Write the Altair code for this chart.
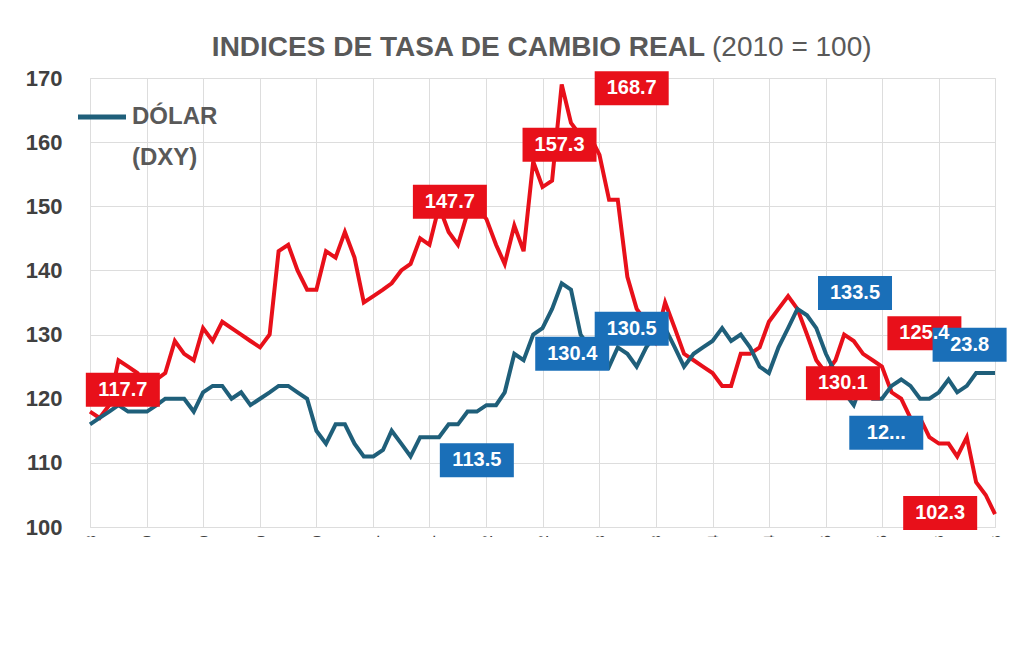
import altair as alt
import pandas as pd

dates = pd.date_range("2018-07-01", "2026-07-01", freq="MS")
peso = [118,117,119,126,125,124, 122,123,124,129,127,126,
        131,129,132,131,130,129, 128,130,143,144,140,137,
        137,143,142,146,142,135, 136,137,138,140,141,145,
        144,150,146,144,149,150, 148,144,141,147,143,157,
        153,154,169,163,161,161, 158,151,151,139,134,132,
        129,135,131,127,126,125, 124,122,122,127,127,128,
        132,134,136,134,130,126, 124,126,130,129,127,126,
        125,121,120,117,117,114, 113,113,111,114,107,105, 102]
dolar = [116,117,118,119,118,118, 118,119,120,120,120,118,
         121,122,122,120,121,119, 120,121,122,122,121,120,
         115,113,116,116,113,111, 111,112,115,113,111,114,
         114,114,116,116,118,118, 119,119,121,127,126,130,
         131,134,138,137,130,128, 127,125,128,127,125,128,
         130,131,128,125,127,128, 129,131,129,130,128,125,
         124,128,131,134,133,131, 127,124,121,119,123,120,
         120,122,123,122,120,120, 121,123,121,122,124,124, 124]

df = pd.concat([
    pd.DataFrame({"fecha": dates, "valor": peso, "serie": "PESO"}),
    pd.DataFrame({"fecha": dates, "valor": dolar, "serie": "DÓLAR (DXY)"}),
])

lab_text = ["117.7", "147.7", "157.3", "168.7", "130.1", "125.4", "102.3",
            "113.5", "130.4", "130.5", "133.5", "12...", "23.8"]
lab_date = ["2018-10-15", "2021-09-05", "2022-08-25", "2023-04-15", "2025-02-25", "2025-11-15", "2026-01-05",
            "2021-12-01", "2022-10-05", "2023-04-15", "2025-04-05", "2025-07-15", "2026-04-10"]
lab_val = [121.4, 150.7, 159.6, 168.4, 122.4, 130.2, 102.2,
           110.4, 127.0, 130.9, 136.5, 114.7, 128.4]
lab_color = ["#e8101a"] * 7 + ["#1a6fb8"] * 6
labels = pd.DataFrame({"t": lab_text, "fecha": pd.to_datetime(lab_date), "valor": lab_val, "c": lab_color})

xenc = alt.X("fecha:T", scale=alt.Scale(domain=["2018-07-01", "2026-07-01"]),
             axis=alt.Axis(format="%b-%y", values=[f"{y}-{m:02d}-01" for y in range(2018, 2027) for m in (1, 7)
                                                   if not (y == 2018 and m == 1)],
                           labelAngle=270, labelFontSize=15, labelFontWeight="bold", labelColor="#404040",
                           title=None, grid=True, gridColor="#dddddd", domain=False, ticks=False,
                           labelPadding=8))
yenc = alt.Y("valor:Q", scale=alt.Scale(domain=[100, 170], nice=False),
             axis=alt.Axis(values=list(range(100, 171, 10)), labelFontSize=22, labelFontWeight="bold",
                           labelColor="#404040", title=None, gridColor="#dddddd", domain=False, ticks=False,
                           labelPadding=28))

lines = alt.Chart(df).mark_line(strokeWidth=4).encode(
    x=xenc, y=yenc,
    color=alt.Color("serie:N", scale=alt.Scale(domain=["PESO", "DÓLAR (DXY)"], range=["#e8101a", "#1f5f7a"]),
                    legend=None),
    order=alt.Order("serie:N", sort="ascending"),
)

boxes = alt.Chart(labels).mark_rect(height=34, width=74).encode(
    x="fecha:T", y="valor:Q", color=alt.Color("c:N", scale=None))
texts = alt.Chart(labels).mark_text(font="Liberation Sans", fontSize=20, fontWeight="bold", color="white").encode(
    x="fecha:T", y="valor:Q", text="t:N")

title1 = alt.Chart(pd.DataFrame({"t": ["INDICES DE TASA DE CAMBIO REAL"]})).mark_text(
    fontSize=28, fontWeight="bold", color="#595959", align="right", font="Liberation Sans").encode(
    x=alt.value(615), y=alt.value(-30), text="t:N")
title2 = alt.Chart(pd.DataFrame({"t": ["(2010 = 100)"]})).mark_text(
    fontSize=28, color="#595959", align="left", font="Liberation Sans").encode(
    x=alt.value(622), y=alt.value(-30), text="t:N")
leg_line = alt.Chart(pd.DataFrame({"a": [0]})).mark_rule(strokeWidth=5, color="#1f5f7a").encode(
    x=alt.value(-12), x2=alt.value(36), y=alt.value(39))
leg_text = alt.Chart(pd.DataFrame({"t": ["DÓLAR", "(DXY)"], "yy": [39, 80]})).mark_text(
    fontSize=24, fontWeight="bold", color="#595959", align="left", font="Liberation Sans").encode(
    x=alt.value(42), y=alt.Y("yy:Q", scale=None), text="t:N")

chart = alt.layer(lines, boxes, texts, title1, title2, leg_line, leg_text).properties(
    width=905, height=449, padding={"left": 82, "top": 70, "right": 20, "bottom": 10},
    autosize=alt.AutoSizeParams(type="none"),
).configure_view(stroke="#dddddd").configure_axis(labelFont="Liberation Sans")

chart.save("out.html", embed_options={"renderer": "svg", "actions": False})
